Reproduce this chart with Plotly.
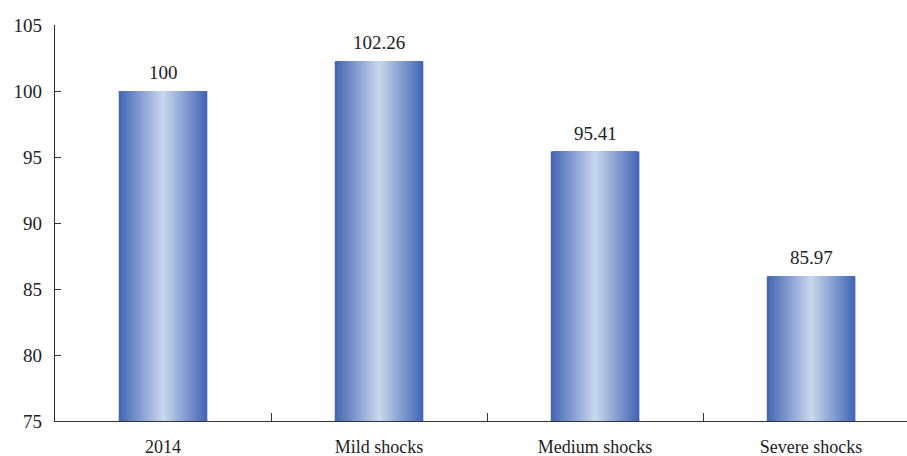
import plotly.graph_objects as go

categories = ["2014", "Mild shocks", "Medium shocks", "Severe shocks"]
values = [100, 102.26, 95.41, 85.97]
value_labels = ["100", "102.26", "95.41", "85.97"]
y_ticks = [75, 80, 85, 90, 95, 100, 105]

BAR_W = 0.41
N = 40
edge = (0x42, 0x66, 0xB4)
center = (0xC9, 0xD7, 0xEC)

def mix(t):
    return "rgb(%d,%d,%d)" % tuple(round(e + (c - e) * t) for e, c in zip(edge, center))

fig = go.Figure()
for k in range(N):
    t = k / (N - 1)
    w = BAR_W * (1 - k / N)
    fig.add_trace(go.Bar(
        x=categories, y=values, width=w,
        marker=dict(color=mix(t), line=dict(width=0)),
        hoverinfo="skip", showlegend=False,
    ))

for i, (v, lab) in enumerate(zip(values, value_labels)):
    fig.add_annotation(x=i, y=v, text=lab, showarrow=False, yanchor="bottom",
                       yshift=6, font=dict(family="Liberation Serif", size=19, color="#222"))

fig.update_layout(
    width=907, height=456,
    margin=dict(l=55, r=0, t=25, b=35, autoexpand=False),
    barmode="overlay",
    plot_bgcolor="white", paper_bgcolor="white",
    font=dict(family="Liberation Serif", size=17, color="#222"),
)
fig.update_xaxes(
    type="category", range=[-0.5, 3.444], automargin=False,
    showline=True, linecolor="#333", linewidth=1.2,
    ticks="inside", ticklen=8, tickcolor="#333", tickson="boundaries",
    showgrid=False, ticklabelstandoff=9,
    tickfont=dict(family="Liberation Serif", size=18, color="#222"),
)
fig.update_yaxes(
    range=[75, 105], tickvals=y_ticks, automargin=False,
    showline=True, linecolor="#333", linewidth=1.2,
    ticks="inside", ticklen=6, tickcolor="#333",
    showgrid=False, zeroline=False, ticklabelstandoff=8,
    tickfont=dict(family="Liberation Serif", size=19, color="#222"),
)
fig.write_html("out.html", config={"displayModeBar": False},
               post_script="document.body.style.margin='0';document.body.style.overflow='hidden';")
